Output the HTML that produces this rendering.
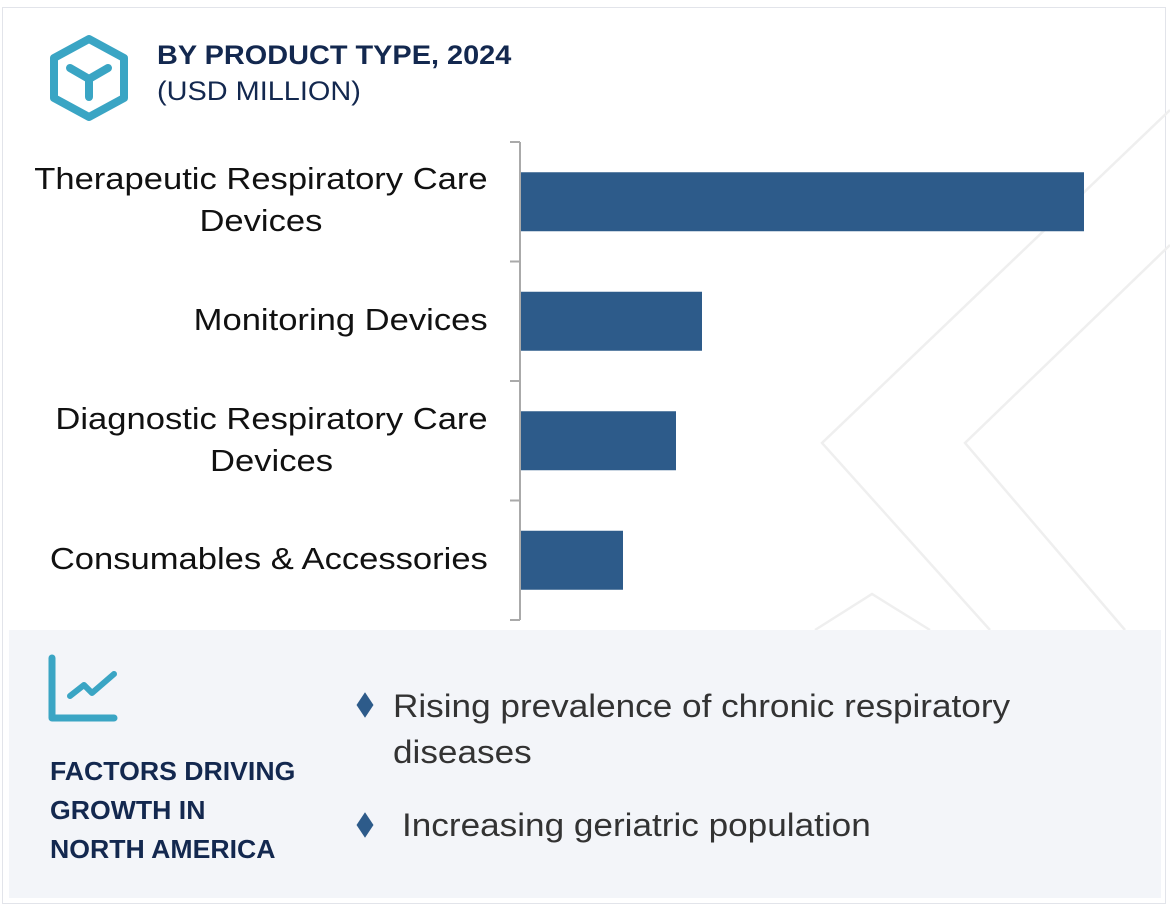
<!DOCTYPE html>
<html><head><meta charset="utf-8"><style>
body{margin:0;width:1170px;height:908px;background:#fff;font-family:"Liberation Sans",Arial,sans-serif;overflow:hidden;position:relative}
.frame{position:absolute;left:2px;top:7px;width:1164px;height:897px;border:1px solid #e2e4ea;box-sizing:border-box}
.t1{position:absolute;left:157px;top:40px;font-size:27px;font-weight:bold;color:#13284f;transform:scaleX(1.07);transform-origin:left}
.t2{position:absolute;left:157px;top:76px;font-size:27px;color:#13284f;transform:scaleX(1.07);transform-origin:left}
.lbl{position:absolute;right:682px;font-size:31px;color:#111;text-align:center;line-height:42px;transform:scaleX(1.115);transform-origin:right;white-space:nowrap}
.panel{position:absolute;left:9px;top:630px;width:1152px;height:268px;background:#f3f5f9}
.ft{position:absolute;left:50px;top:752px;font-size:26px;font-weight:bold;color:#13284f;line-height:39px;transform:scaleX(1.025);transform-origin:left}
.bl{position:absolute;font-size:32px;color:#333;line-height:46px;transform:scaleX(1.098);transform-origin:left;white-space:nowrap}
.dia{position:absolute;width:12px;height:12px;background:#2d5b8a;transform:scaleY(1.5) rotate(45deg)}
</style></head><body>
<div class="frame"></div>
<svg style="position:absolute;left:0;top:0" width="1170" height="908">
<polyline points="1170,110 822,443 990,630" fill="none" stroke="#efefef" stroke-width="2.5"/>
<polyline points="1170,245 965,443 1125,630" fill="none" stroke="#efefef" stroke-width="2.5"/>
<polyline points="815,630 872,594 930,630" fill="none" stroke="#efefef" stroke-width="2.5"/>
</svg>
<svg style="position:absolute;left:48px;top:34px" width="82" height="88" viewBox="0 0 82 88">
<polygon points="41,5 76,24 76,64 41,83 6,64 6,24" fill="none" stroke="#3aa5c4" stroke-width="8" stroke-linejoin="round"/>
<path d="M22,34 L41,45 L60,34 M41,45 L41,63" fill="none" stroke="#3aa5c4" stroke-width="8" stroke-linecap="round"/>
</svg>
<div class="t1">BY PRODUCT TYPE, 2024</div>
<div class="t2">(USD MILLION)</div>
<div class="lbl" style="top:158px">Therapeutic Respiratory Care<br>Devices</div>
<div class="lbl" style="top:299px">Monitoring Devices</div>
<div class="lbl" style="top:398px">Diagnostic Respiratory Care<br>Devices</div>
<div class="lbl" style="top:538px">Consumables &amp; Accessories</div>
<svg id="chart" style="position:absolute;left:0;top:0" width="1170" height="908"></svg>
<div class="panel"></div>
<svg style="position:absolute;left:48px;top:654px" width="72" height="70">
<path d="M4,4 L4,64 L66,64" fill="none" stroke="#3aa5c4" stroke-width="7" stroke-linecap="round" stroke-linejoin="round"/>
<path d="M22,42 L36,31 L44,39 L66,20" fill="none" stroke="#3aa5c4" stroke-width="6" stroke-linecap="round" stroke-linejoin="round"/>
</svg>
<div class="ft">FACTORS DRIVING<br>GROWTH IN<br>NORTH AMERICA</div>
<div class="dia" style="left:359px;top:699px"></div>
<div class="bl" style="left:393px;top:683px">Rising prevalence of chronic respiratory<br>diseases</div>
<div class="dia" style="left:359px;top:819px"></div>
<div class="bl" style="left:402px;top:802px">Increasing geriatric population</div>
<script>
const categories=["Therapeutic Respiratory Care Devices","Monitoring Devices","Diagnostic Respiratory Care Devices","Consumables & Accessories"];
const values=[563,181,155,102];
const svg=document.getElementById('chart');
const NS='http://www.w3.org/2000/svg';
const x0=521,pxPer=1.0;
const xScale=v=>x0+v*pxPer;
const top0=142,band=119.5;
const yScale=i=>top0+i*band;
function mk(t,a){const e=document.createElementNS(NS,t);for(const k in a)e.setAttribute(k,a[k]);svg.appendChild(e);return e;}
const ax=mk('line',{x1:520,y1:top0,x2:520,y2:top0+band*categories.length,stroke:'#aaa','stroke-width':2});


for(let i=0;i<=categories.length;i++){
 const t=mk('line',{x1:510,x2:520,y1:yScale(i),y2:yScale(i),stroke:'#aaa','stroke-width':2});
 
 
}
values.forEach((v,i)=>{
 const h=59;
 const r=mk('rect',{x:x0,y:yScale(i)+band/2-h/2,width:xScale(v)-x0,height:h,fill:'#2d5b8a'});
 
 
});
</script>
</body></html>
